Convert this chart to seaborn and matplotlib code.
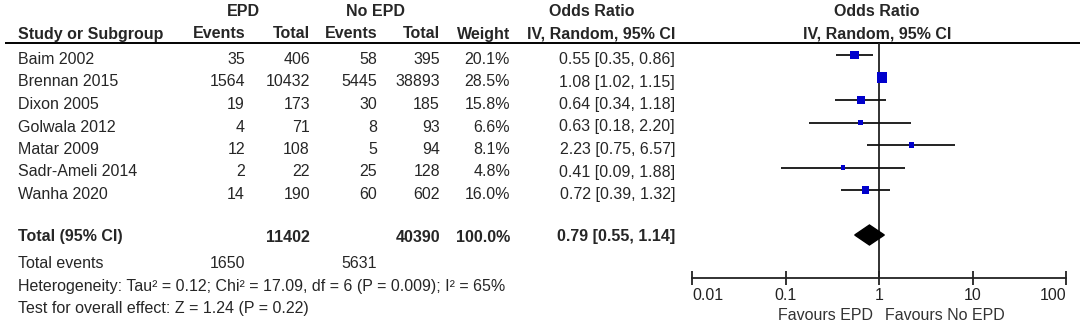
import numpy as np
import pandas as pd
import matplotlib
matplotlib.use("Agg")
import matplotlib.pyplot as plt
import seaborn as sns

# ---------------- data ----------------
studies = ["Baim 2002", "Brennan 2015", "Dixon 2005", "Golwala 2012",
           "Matar 2009", "Sadr-Ameli 2014", "Wanha 2020"]
epd_events = [35, 1564, 19, 4, 12, 2, 14]
epd_total = [406, 10432, 173, 71, 108, 22, 190]
no_events = [58, 5445, 30, 8, 5, 25, 60]
no_total = [395, 38893, 185, 93, 94, 128, 602]
weights = [20.1, 28.5, 15.8, 6.6, 8.1, 4.8, 16.0]
or_est = [0.55, 1.08, 0.64, 0.63, 2.23, 0.41, 0.72]
ci_lo = [0.35, 1.02, 0.34, 0.18, 0.75, 0.09, 0.39]
ci_hi = [0.86, 1.15, 1.18, 2.20, 6.57, 1.88, 1.32]

total_epd = 11402
total_no = 40390
total_weight = 100.0
pooled_or = 0.79
pooled_lo = 0.55
pooled_hi = 1.14
events_epd = 1650
events_no = 5631

heterogeneity = "Heterogeneity: Tau\u00b2 = 0.12; Chi\u00b2 = 17.09, df = 6 (P = 0.009); I\u00b2 = 65%"
overall = "Test for overall effect: Z = 1.24 (P = 0.22)"
tick_vals = [0.01, 0.1, 1, 10, 100]
tick_labels = ["0.01", "0.1", "1", "10", "100"]

# ---------------- style ----------------
sns.set_style("white")
plt.rcParams["font.family"] = ["Liberation Sans", "DejaVu Sans"]
FS = 11.5
W, H = 1084, 324

fig = plt.figure(figsize=(W / 100, H / 100), dpi=100)
fig.patch.set_facecolor("white")

# table axes in pixel-like coordinates
ax_t = fig.add_axes([0, 0, 1, 1])
ax_t.set_xlim(0, W)
ax_t.set_ylim(H, 0)
ax_t.axis("off")

# row layout
n = len(studies)
ROW0, ROWH = 55.0, 22.5
row_y = ROW0 + ROWH * np.arange(n)
total_y = 235.0
TXT = 9.0  # baseline offset from row centre

# headers
hdr1, hdr2 = 16, 38.5
ax_t.text(243, hdr1, "EPD", ha="center", va="baseline", fontsize=FS, fontweight="bold")
ax_t.text(375, hdr1, "No EPD", ha="center", va="baseline", fontsize=FS, fontweight="bold")
ax_t.text(592, hdr1, "Odds Ratio", ha="center", va="baseline", fontsize=FS, fontweight="bold")
ax_t.text(877, hdr1, "Odds Ratio", ha="center", va="baseline", fontsize=FS, fontweight="bold")
ax_t.text(18, hdr2, "Study or Subgroup", ha="left", va="baseline", fontsize=FS, fontweight="bold")
for x, s in [(245, "Events"), (310, "Total"), (377, "Events"), (440, "Total"),
             (510, "Weight"), (675, "IV, Random, 95% CI")]:
    ax_t.text(x, hdr2, s, ha="right", va="baseline", fontsize=FS, fontweight="bold")
ax_t.text(877, hdr2, "IV, Random, 95% CI", ha="center", va="baseline", fontsize=FS, fontweight="bold")
ax_t.hlines(42.5, 5, 1080, color="black", lw=1.4)

# study rows
for i in range(n):
    y = row_y[i] + TXT
    ax_t.text(18, y, studies[i], ha="left", va="baseline", fontsize=FS)
    ax_t.text(245, y, f"{epd_events[i]}", ha="right", va="baseline", fontsize=FS)
    ax_t.text(310, y, f"{epd_total[i]}", ha="right", va="baseline", fontsize=FS)
    ax_t.text(377, y, f"{no_events[i]}", ha="right", va="baseline", fontsize=FS)
    ax_t.text(440, y, f"{no_total[i]}", ha="right", va="baseline", fontsize=FS)
    ax_t.text(510, y, f"{weights[i]:.1f}%", ha="right", va="baseline", fontsize=FS)
    ax_t.text(675, y, f"{or_est[i]:.2f} [{ci_lo[i]:.2f}, {ci_hi[i]:.2f}]",
              ha="right", va="baseline", fontsize=FS)

# total rows
ty = 241.5
ax_t.text(18, ty, "Total (95% CI)", ha="left", va="baseline", fontsize=FS, fontweight="bold")
ax_t.text(310, ty, f"{total_epd}", ha="right", va="baseline", fontsize=FS, fontweight="bold")
ax_t.text(440, ty, f"{total_no}", ha="right", va="baseline", fontsize=FS, fontweight="bold")
ax_t.text(510, ty, f"{total_weight:.1f}%", ha="right", va="baseline", fontsize=FS, fontweight="bold")
ax_t.text(675, ty, f"{pooled_or:.2f} [{pooled_lo:.2f}, {pooled_hi:.2f}]",
          ha="right", va="baseline", fontsize=FS, fontweight="bold")
ey = 268
ax_t.text(18, ey, "Total events", ha="left", va="baseline", fontsize=FS)
ax_t.text(245, ey, f"{events_epd}", ha="right", va="baseline", fontsize=FS)
ax_t.text(377, ey, f"{events_no}", ha="right", va="baseline", fontsize=FS)
ax_t.text(18, 290.5, heterogeneity, ha="left", va="baseline", fontsize=FS)
ax_t.text(18, 313, overall, ha="left", va="baseline", fontsize=FS)

# ---------------- forest axes ----------------
X0, X1 = 692, 1066
ax_f = fig.add_axes([X0 / W, 0, (X1 - X0) / W, 1])
ax_f.set_facecolor("none")
ax_f.set_xscale("log")
ax_f.set_xlim(0.01, 100)
ax_f.set_ylim(H, 0)
ax_f.set_yticks([])
for sp in ["left", "right", "top"]:
    ax_f.spines[sp].set_visible(False)
AXIS_Y = 278
ax_f.spines["bottom"].set_position(("data", AXIS_Y))
ax_f.spines["bottom"].set_color("#222222")
ax_f.spines["bottom"].set_linewidth(1.3)
ax_f.set_xticks(tick_vals)
ax_f.set_xticklabels(tick_labels)
ax_f.xaxis.set_minor_locator(matplotlib.ticker.NullLocator())
ax_f.tick_params(axis="x", direction="inout", length=10, width=1.3, color="#222222",
                 labelsize=FS, labelcolor="#222222", pad=2.5, bottom=True)
lbls = ax_f.get_xticklabels()
lbls[0].set_ha("left")
lbls[-1].set_ha("right")

# line of no effect
ax_f.vlines(1, 42.5, AXIS_Y, color="#222222", lw=1.3)

# CIs
ax_f.hlines(row_y, ci_lo, ci_hi, color="#111111", lw=1.3, zorder=2)

# squares (area proportional to weight)
df = pd.DataFrame({"or": or_est, "y": row_y, "w": weights})
k = 1.85
sns.scatterplot(data=df, x="or", y="y", size="w", sizes=(0, k * max(weights)),
                size_norm=(0, max(weights)), marker="s", color="#0000CC",
                linewidth=0, legend=False, ax=ax_f, zorder=3)

# pooled diamond
DH = 10
ax_f.fill([pooled_lo, pooled_or, pooled_hi, pooled_or],
          [total_y, total_y - DH, total_y, total_y + DH], color="black", zorder=3)

ax_f.set_xlabel("")
ax_f.set_ylabel("")
ax_f.set_ylim(H, 0)

# favours labels
ax_f.text(0.87, 319.5, "Favours EPD", ha="right", va="baseline", fontsize=FS, color="#333333")
ax_f.text(1.17, 319.5, "Favours No EPD", ha="left", va="baseline", fontsize=FS, color="#333333")

fig.savefig("out.png", dpi=100, facecolor="white")
